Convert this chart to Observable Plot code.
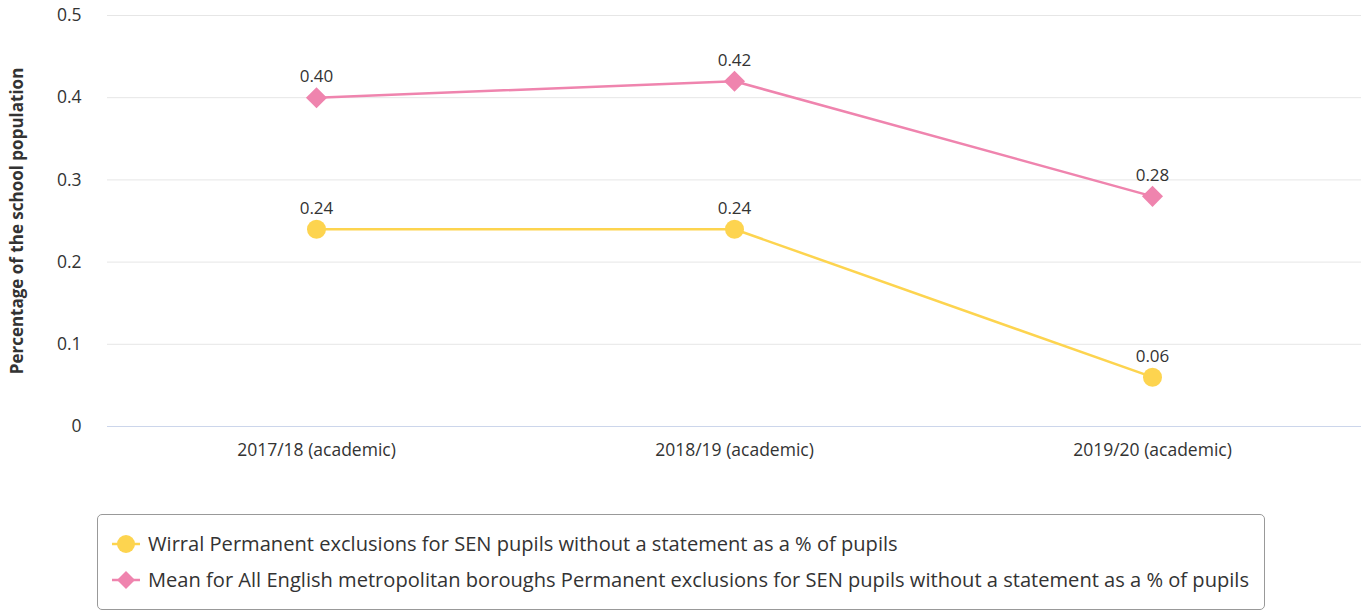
<!DOCTYPE html>
<html>
<head>
<meta charset="utf-8">
<script src="https://cdn.jsdelivr.net/npm/d3@7"></script>
<script src="https://cdn.jsdelivr.net/npm/@observablehq/plot@0.6"></script>
<style>
  html, body { margin: 0; padding: 0; background: #fff; }
  body { width: 1367px; height: 612px; position: relative; overflow: hidden; font-family: "Open Sans", sans-serif; }
  #chart { position: absolute; left: 0; top: 0; }
  #legend { position: absolute; left: 97px; top: 514px; width: 1168px; height: 96px; border: 1px solid #999; border-radius: 5px; box-sizing: border-box; }
  .item { position: absolute; left: 14px; display: flex; align-items: center; font-size: 20.1px; color: #333; white-space: nowrap; }
  .item svg { margin-right: 8px; }
</style>
</head>
<body>
<div id="chart"></div>
<div id="legend"></div>
<script>
const years = ["2017/18 (academic)", "2018/19 (academic)", "2019/20 (academic)"];
const seriesNames = [
  "Wirral Permanent exclusions for SEN pupils without a statement as a % of pupils",
  "Mean for All English metropolitan boroughs Permanent exclusions for SEN pupils without a statement as a % of pupils"
];
const wirralValues = [0.24, 0.24, 0.06];
const meanValues = [0.40, 0.42, 0.28];
const yTicks = [0, 0.1, 0.2, 0.3, 0.4, 0.5];
const colors = ["#fdd44f", "#ef84ae"];
const symbols = ["circle", "diamond2"];

const data = [];
years.forEach((y, i) => {
  data.push({year: y, value: wirralValues[i], series: seriesNames[0]});
  data.push({year: y, value: meanValues[i], series: seriesNames[1]});
});

const fmt = v => v.toFixed(2);

const chart = Plot.plot({
  width: 1367,
  height: 470,
  marginLeft: 107,
  marginRight: 6,
  marginTop: 15,
  marginBottom: 44,
  style: {fontFamily: "Open Sans, sans-serif", fontSize: "17px", color: "#333", background: "#fff"},
  x: {type: "point", domain: years, padding: 0.5, label: null},
  y: {domain: [0, 0.5], ticks: yTicks, label: null},
  color: {domain: seriesNames, range: colors},
  symbol: {domain: seriesNames, range: symbols},
  marks: [
    Plot.gridY(yTicks.filter(d => d > 0), {stroke: "#e6e6e6", strokeOpacity: 1, strokeWidth: 1}),
    Plot.ruleY([0], {stroke: "#ccd6eb", strokeWidth: 1}),
    Plot.axisY({ticks: yTicks, tickSize: 0, tickPadding: 26, tickFormat: d => d === 0 ? "0" : d3.format(".1f")(d), fontSize: 17.5, fill: "#333", label: null}),
    Plot.axisX({tickSize: 0, tickPadding: 17, fontSize: 17.5, fill: "#333", label: null}),
    Plot.text(["Percentage of the school population"], {frameAnchor: "left", dx: -90, rotate: -90, textAnchor: "middle", fontWeight: "bold", fontSize: 17, fill: "#333"}),
    Plot.line(data, {x: "year", y: "value", z: "series", stroke: "series", strokeWidth: 2.5}),
    Plot.dot(data, {x: "year", y: "value", fill: "series", symbol: "series", r: 9.5, stroke: null}),
    Plot.text(data, {x: "year", y: "value", text: d => fmt(d.value), dy: -21, fontSize: 17, fill: "#333"})
  ]
});
document.getElementById("chart").appendChild(chart);

const legend = document.getElementById("legend");
seriesNames.forEach((name, i) => {
  const item = document.createElement("div");
  item.className = "item";
  item.style.top = (i === 0 ? 15 : 51) + "px";
  const sym = i === 0
    ? `<circle cx="14" cy="12" r="9" fill="${colors[i]}"/>`
    : `<path d="M14 3 L23 12 L14 21 L5 12 Z" fill="${colors[i]}"/>`;
  item.innerHTML = `<svg width="28" height="24"><line x1="0" x2="28" y1="12" y2="12" stroke="${colors[i]}" stroke-width="2.5"/>${sym}</svg><span>${name}</span>`;
  legend.appendChild(item);
});
</script>
</body>
</html>
